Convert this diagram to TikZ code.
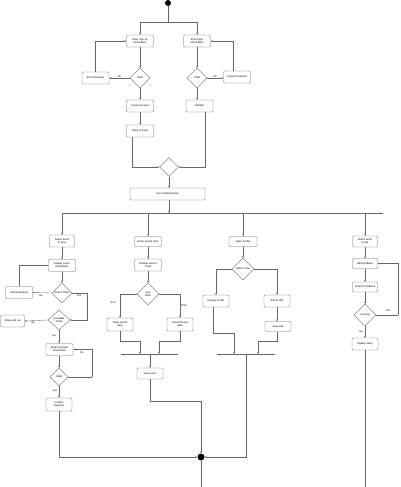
\documentclass[tikz,border=0pt]{standalone}
\usepackage{fontspec}
\setmainfont{Liberation Sans}
\usetikzlibrary{shapes.geometric,arrows.meta}
\begin{document}
\begin{tikzpicture}[x=1pt,y=-1pt,
  every node/.style={font=\fontsize{2.6}{3.1}\selectfont},
  box/.style={draw=black!60, rounded corners=1.2pt, fill=white, minimum width=27pt, minimum height=12pt, inner sep=0.3pt, align=center, line width=0.35pt},
  dec/.style={draw=black!60, diamond, minimum width=20pt, minimum height=20pt, inner sep=0pt, align=center, fill=white, line width=0.35pt},
  arr/.style={draw=black!60, line width=0.35pt, -{Stealth[length=2pt,width=1.8pt]}},
  ln/.style={draw=black!60, line width=0.35pt},
  lbl/.style={inner sep=0pt}
]
\useasboundingbox (0,0) rectangle (400,487);
% start
\node[circle, fill=black, minimum size=6pt, inner sep=0pt] (start) at (168,3) {};
\coordinate (fork) at (168,22);
\coordinate (forkL) at (140,22);
\coordinate (forkR) at (197,22);
% top nodes
\node[box] (signup) at (140,41) {Enter sign up\\information};
\node[box] (login) at (197,41) {Enter login\\information};
\node[dec] (valid1) at (140,78) {Valid};
\node[dec] (valid2) at (197,78) {Valid};
\node[box] (err) at (95.5,78) {Error Message};
\node[box] (forgot) at (237,77) {Forgot Password};
\node[box] (create) at (140,106) {Create account};
\node[box] (verify) at (140,131) {Verify account};
\node[box] (validate) at (199.5,106) {Validate};
\node[dec, minimum width=19pt, minimum height=19pt] (merge) at (169,167) {};
\node[box, minimum width=75pt] (ua) at (167.5,194) {User Authentication};
% top connectors
\draw[ln] (start) -- (fork);
\draw[ln] (forkL) -- (forkR);
\draw[arr] (forkL) -- (signup.north);
\draw[arr] (forkR) -- (login.north);
\draw[arr] (signup) -- (valid1);
\draw[arr] (login) -- (valid2);
\draw[arr] (valid1.west) -- (err.east) node[lbl, midway, above=0.6pt] {No};
\draw[arr] (valid2.east) -- (valid2.east -| forgot.west) node[lbl, midway, above=0.6pt] {No};
\draw[arr] (err.north) |- (signup.west);
\draw[arr] ([xshift=-4pt]forgot.north) |- (login.east);
\draw[arr] (valid1) -- (create);
\draw[arr] (create) -- (verify);
\draw[arr] (valid2.south) -- (valid2.south |- validate.north);
\draw[arr] ([xshift=-8pt]verify.south) |- (merge.west);
\draw[arr] ([xshift=6pt]validate.south) |- (merge.east);
\draw[arr] (merge.south) -- (merge.south |- ua.north);
% main bar
\coordinate (barL) at (62,213);
\coordinate (barR) at (383,213);
\draw[ln, line width=0.5pt] (barL) -- (barR);
\draw[arr] (ua.south -| merge.south) -- (merge.south |- barL);
% column 1
\node[box, minimum width=25pt] (sel) at (62,241) {Select event\\to view};
\node[box] (disp) at (62,265.5) {Display event\\information};
\node[dec] (selt) at (62,293) {Select Ticket};
\node[box] (cancel) at (19,292.5) {Cancel booking};
\node[dec, minimum width=22pt] (avail) at (59,320) {Available\\Ticket};
\node[box, minimum width=24pt] (sold) at (12.5,321) {Show sold out};
\node[box] (pay) at (59.5,349.5) {Enter Payment\\Information};
\node[dec, minimum width=18pt, minimum height=18pt] (valid3) at (59,377) {Valid};
\node[box, minimum width=26pt, minimum height=13pt] (confirm) at (59,404.5) {Confirm\\Payment};
\coordinate (yesR) at (87,293);
\coordinate (payR) at (92,377);
\draw[arr] (sel.north |- barL) -- (sel.north);
\draw[arr] (sel) -- (disp);
\draw[arr] (disp) -- (selt);
\draw[arr] (selt.west) -- (cancel.east);
\node[lbl] at (41,295.5) {No};
\draw[arr] (cancel.north) |- (disp.west);
\draw[ln] (selt.east) -- (yesR);
\node[lbl] at (79,296) {Yes};
\draw[arr] (yesR) |- (avail.east);
\draw[arr] (avail.west) -- (sold.east);
\node[lbl] at (33,323) {No};
\draw[arr] (avail.south) -- (avail.south |- pay.north);
\node[lbl] at (54,336) {yes};
\draw[arr] (pay.south -| valid3.north) -- (valid3.north);
\draw[ln] (valid3.east) -- (payR);
\draw[arr] (payR) |- (pay.east);
\node[lbl] at (82,353) {No};
\draw[arr] (valid3.south) -- (valid3.south |- confirm.north);
\node[lbl] at (55,391) {yes};
% end node
\node[circle, fill=black, minimum size=7pt, inner sep=0pt] (end) at (201,457) {};
\coordinate (bottom1) at (201,487);
\draw[arr] (confirm.south) |- (end.west);
\draw[ln] (end.south) -- (bottom1);
% column 2
\node[box, minimum height=10pt] (search) at (148,241.5) {Enter search term};
\node[box] (dsr) at (148,265) {Display search\\result};
\node[dec, minimum width=22pt, minimum height=22pt] (sortf) at (148,294) {Sort\\Filter};
\node[box, minimum width=26pt, minimum height=13pt] (sorted) at (120,324.5) {Show sorted\\data};
\node[box, minimum width=26pt, minimum height=13pt] (filtered) at (180,324.5) {Show filtered\\data};
\node[box, minimum width=26pt, minimum height=11pt] (view) at (150,373.5) {View event};
\draw[arr] (search.north |- barL) -- (search.north);
\draw[arr] (search) -- (dsr);
\draw[arr] (dsr) -- (sortf);
\draw[arr] (sortf.west) -| (sorted.north);
\node[lbl] at (113,303) {Sort};
\draw[arr] (sortf.east) -| (filtered.north);
\node[lbl] at (184,306) {Filter};
\coordinate (j1L) at (121,354);
\coordinate (j1R) at (178,354);
\draw[ln] (j1L) -- (j1R);
\coordinate (s1) at (140,341);
\coordinate (f1) at (159,341);
\draw[arr] (sorted.south) |- (s1) -- (s1 |- j1L);
\draw[arr] (filtered.south) |- (f1) -- (f1 |- j1L);
\draw[arr] (view.north |- j1L) -- (view.north);
\coordinate (v1) at (150,401);
\draw[arr] (view.south) -- (v1) -| (end.north);
% column 3
\node[box, minimum width=28pt, minimum height=10pt] (openp) at (243,241.5) {Open Profile};
\node[dec, minimum width=22pt, minimum height=22pt] (ev) at (243,269) {Edit or view};
\node[box, minimum width=26pt] (dispp) at (216,301) {Display Profile};
\node[box, minimum width=26pt] (editp) at (277,301) {Edit Profile};
\node[box, minimum width=26pt, minimum height=10pt] (save) at (278,326.5) {Save edit};
\draw[arr] (openp.north |- barL) -- (openp.north);
\draw[arr] (openp) -- (ev);
\draw[arr] (ev.west) -| (dispp.north);
\draw[arr] (ev.east) -| (editp.north);
\draw[arr] (editp.south) -- (editp.south |- save.north);
\coordinate (j2L) at (217,354);
\coordinate (j2R) at (275,354);
\draw[ln] (j2L) -- (j2R);
\coordinate (d1) at (213,333);
\coordinate (d2) at (234,333);
\coordinate (e1) at (258,341);
\draw[arr] ([xshift=-3pt]dispp.south) -- (d1) -- (d2) -- (d2 |- j2L);
\draw[arr] (save.south -| editp.south) |- (e1) -- (e1 |- j2L);
\coordinate (p1) at (246,354);
\draw[arr] (p1) |- (end.east);
% column 4
\node[box, minimum width=25pt, minimum height=11pt] (rate) at (365,241.5) {Select event\\to rate};
\node[box, minimum width=25pt, minimum height=10pt] (addf) at (365,263.5) {Add feedback};
\node[box, minimum width=25pt, minimum height=10pt] (subf) at (365,287) {Submit Feedback};
\node[dec, minimum width=22pt, minimum height=22pt] (empty) at (365,315) {Is empty};
\node[box, minimum width=26pt] (upd) at (365,344) {Update rating};
\coordinate (yr) at (398,315);
\coordinate (bottom2) at (365,487);
\draw[arr] (rate.north |- barL) -- (rate.north);
\draw[arr] (rate) -- (addf);
\draw[arr] (addf) -- (subf);
\draw[arr] (subf) -- (empty);
\draw[ln] (empty.east) -- (yr);
\node[lbl] at (388,311) {Yes};
\draw[arr] (yr) |- (addf.east);
\draw[arr] (empty) -- (upd);
\node[lbl] at (361,332) {No};
\draw[ln] (upd.south) -- (bottom2);
\end{tikzpicture}
\end{document}
